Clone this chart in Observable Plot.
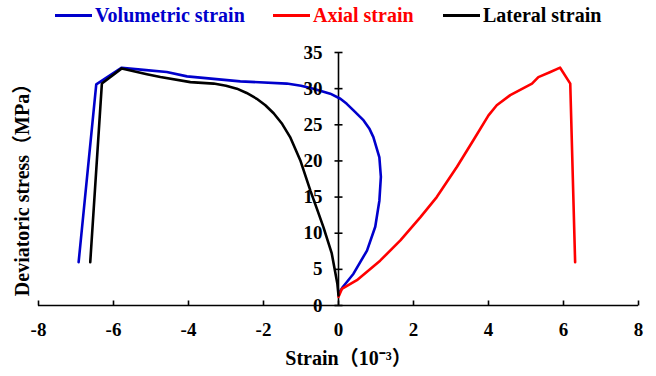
<!DOCTYPE html>
<html>
<head>
<meta charset="utf-8">
<script src="https://cdn.jsdelivr.net/npm/d3@7"></script>
<script src="https://cdn.jsdelivr.net/npm/@observablehq/plot@0.6"></script>
<style>
  html, body { margin: 0; padding: 0; background: white; }
  body { width: 656px; height: 376px; overflow: hidden; font-family: "Liberation Serif", "Noto Sans CJK SC", serif; font-weight: bold; }
  #legend { position: relative; height: 32px; width: 656px; }
  .item { position: absolute; top: 0; height: 30px; display: flex; align-items: center; font-size: 20px; white-space: nowrap; }
  .swatch { width: 37px; height: 3px; margin-right: 3px; }
  #chart svg { overflow: visible; }
</style>
</head>
<body>
<div id="legend"></div>
<div id="chart"></div>
<script>
// Series names and colours
const seriesNames = ["Volumetric strain", "Axial strain", "Lateral strain"];
const seriesColors = ["#0000cc", "#ff0000", "#000000"];

// Volumetric strain (10^-3) vs deviatoric stress (MPa)
const volX = [0.00, 0.12, 0.40, 0.76, 0.98, 1.09, 1.13, 1.09, 0.93, 0.82, 0.67, 0.40, 0.22, 0.05, -0.22, -0.67, -1.00, -1.38, -2.62, -4.04, -4.58, -5.20, -5.78, -6.46, -6.93];
const volY = [1.6, 2.6, 4.4, 7.6, 10.9, 14.5, 17.8, 20.5, 23.3, 24.5, 25.6, 27.0, 27.9, 28.6, 29.3, 30.0, 30.4, 30.7, 31.0, 31.7, 32.3, 32.6, 32.9, 30.6, 6.0];

// Axial strain
const axX = [0.00, 0.09, 0.49, 1.11, 1.65, 2.18, 2.62, 3.16, 3.60, 4.00, 4.22, 4.58, 5.16, 5.33, 5.65, 5.91, 6.18, 6.31];
const axY = [1.2, 2.3, 3.5, 6.2, 9.0, 12.2, 15.0, 19.2, 22.9, 26.3, 27.7, 29.1, 30.7, 31.6, 32.3, 32.9, 30.7, 6.0];

// Lateral strain
const latX = [0.00, -0.03, -0.18, -0.40, -0.57, -0.75, -1.02, -1.29, -1.50, -1.73, -1.95, -2.18, -2.45, -2.71, -3.00, -3.33, -3.95, -4.75, -5.11, -5.78, -6.31, -6.62];
const latY = [1.4, 3.0, 7.2, 10.8, 13.3, 15.9, 20.1, 23.3, 25.1, 26.6, 27.7, 28.6, 29.4, 30.0, 30.4, 30.7, 30.9, 31.6, 32.0, 32.8, 30.7, 6.0];

// Axes
const xTicks = [-8, -6, -4, -2, 0, 2, 4, 6, 8];
const yTicks = [0, 5, 10, 15, 20, 25, 30, 35];
const xTitle = "Strain（10⁻³）";
const yTitle = "Deviatoric stress（MPa）";

// Legend
const legendLeft = [55, 273, 443];
const legend = document.getElementById("legend");
seriesNames.forEach((name, i) => {
  const item = document.createElement("div");
  item.className = "item";
  item.style.left = legendLeft[i] + "px";
  item.style.color = seriesColors[i];
  const sw = document.createElement("span");
  sw.className = "swatch";
  sw.style.background = seriesColors[i];
  item.appendChild(sw);
  item.appendChild(document.createTextNode(name));
  legend.appendChild(item);
});

const toRows = (xs, ys, s) => xs.map((x, i) => ({x, y: ys[i], s}));
const rows = [
  ...toRows(volX, volY, seriesNames[0]),
  ...toRows(axX, axY, seriesNames[1]),
  ...toRows(latX, latY, seriesNames[2])
];

const font = "Liberation Serif, Noto Sans CJK SC, serif";
const vtick = {draw(ctx) { ctx.moveTo(0, 0); ctx.lineTo(0, -5); }};
const htick = {draw(ctx) { ctx.moveTo(-4, 0); ctx.lineTo(4, 0); }};
const txt = {fontWeight: "bold", fontFamily: font, fill: "#000"};

const chart = Plot.plot({
  width: 656,
  height: 344,
  marginLeft: 38,
  marginRight: 18,
  marginTop: 20,
  marginBottom: 71,
  style: {background: "white", fontFamily: font, fontWeight: "bold", fontSize: "19px", overflow: "visible"},
  x: {domain: [xTicks[0], xTicks[xTicks.length - 1]], axis: null},
  y: {domain: [yTicks[0], yTicks[yTicks.length - 1]], axis: null},
  color: {domain: seriesNames, range: seriesColors},
  marks: [
    Plot.ruleY([0], {stroke: "#000", strokeWidth: 1.6}),
    Plot.dot(xTicks, {x: d => d, y: 0, symbol: vtick, stroke: "#000", strokeWidth: 1.6, r: 4}),
    Plot.ruleX([0], {y1: yTicks[0], y2: yTicks[yTicks.length - 1], stroke: "#000", strokeWidth: 1.6}),
    Plot.dot(yTicks, {x: 0, y: d => d, symbol: htick, stroke: "#000", strokeWidth: 1.6, r: 4}),
    Plot.line(rows, {x: "x", y: "y", z: "s", stroke: "s", strokeWidth: 2.6, curve: "linear"}),
    Plot.text(xTicks, {x: d => d, frameAnchor: "bottom", lineAnchor: "middle", dy: 24, text: d => String(d), fontSize: 19, ...txt}),
    Plot.text(yTicks, {x: 0, y: d => d, dx: -16, textAnchor: "end", text: d => String(d), fontSize: 19, ...txt}),
    Plot.text([xTitle], {frameAnchor: "bottom", lineAnchor: "middle", dx: 10, dy: 53, text: d => d, fontSize: 20, ...txt}),
    Plot.text([yTitle], {frameAnchor: "left", textAnchor: "middle", lineAnchor: "middle", dx: -16, dy: 6, rotate: -90, text: d => d, fontSize: 20, ...txt})
  ]
});
document.getElementById("chart").appendChild(chart);
</script>
</body>
</html>
